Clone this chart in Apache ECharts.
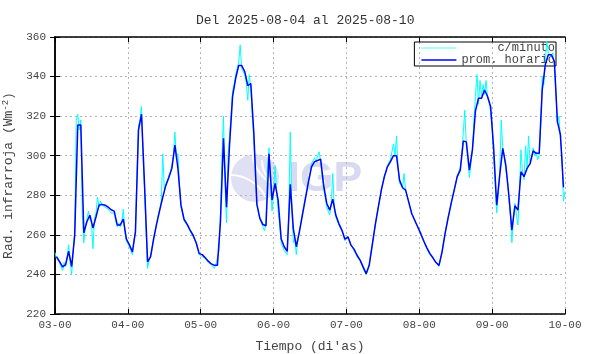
<!DOCTYPE html>
<html>
<head>
<meta charset="utf-8">
<script src="https://cdn.jsdelivr.net/npm/echarts@6/dist/echarts.min.js"></script>
<style>
    html, body { margin: 0; padding: 0; background: #fff; }
    #chart { width: 590px; height: 354px; }
</style>
</head>
<body>
<div id="chart"></div>
<script>
    // eje x en horas desde 03-00, una marca por dia
    const dayLabels = ['03-00', '04-00', '05-00', '06-00', '07-00', '08-00', '09-00', '10-00']
    const yTicks = [220, 240, 260, 280, 300, 320, 340, 360]

    // promedio horario (un valor por hora, centrado en la media hora)
    const horario1 = [249, 246.5, 243.8, 245, 251.7, 244, 260, 315.5, 315.5, 261, 266.6, 270, 263.5, 269, 275, 275.4, 275, 274, 272.7, 272, 265, 265, 268, 258]
    const horario2 = [255, 251.4, 261.5, 313, 321, 285, 246.3, 249, 258, 265.7, 272.5, 279, 285, 289, 293.6, 305.4, 293.6, 275, 268, 265.4, 262.4, 259.8, 256, 250.5]
    const horario3 = [250, 248.4, 246.7, 245.3, 244.6, 244.6, 266.6, 308.8, 274, 305.4, 330, 339, 345.6, 345.6, 342.5, 335.4, 336.5, 311.3, 275.4, 268.3, 265.2, 264.6, 301, 277.6]
    const horario4 = [286, 277.6, 258, 254, 251.7, 285.5, 263.2, 254, 261.5, 270, 278.4, 286.8, 294.4, 297, 297.6, 298.3, 285, 276, 272.5, 278, 270, 265.7, 262.4, 257.8]
    const horario5 = [259, 254.8, 252.8, 249.7, 247.2, 243.8, 240.4, 244.6, 254.8, 265, 274, 282.6, 289.4, 294.4, 297, 300, 300, 287.7, 283.8, 282.6, 276.7, 270.8, 267.4, 264]
    const horario6 = [260.6, 256.8, 253.4, 250.5, 248.4, 246, 244.6, 251.4, 260.6, 268.6, 275.9, 282.6, 289.4, 292.7, 307.4, 307, 292.7, 302.9, 322.6, 329, 329, 333.2, 329.9, 324.8]
    const horario7 = [303.7, 275, 290.2, 303.7, 295.3, 280, 262.4, 274.7, 272.5, 291.9, 289.4, 293.6, 296, 302.4, 301.2, 301.2, 333.2, 345.9, 351, 351, 347.6, 317.2, 310.5, 284]

    // c/minuto, leido cada media hora
    const minuto1 = [251, 248, 249, 246, 244, 242, 246, 244, 249, 255, 246, 240, 252, 262, 318, 321, 313, 318, 270, 256, 264, 268, 272, 268, 266, 253, 268, 271, 279, 274, 277, 275, 276, 274, 275, 273, 273, 271, 272, 271, 267, 264, 266, 264, 266, 273, 262, 257]
    const minuto2 = [256, 254, 252, 250, 257, 262, 290, 315, 318, 325, 300, 283, 262, 243, 247, 250, 254, 259, 262, 266, 270, 273, 277, 301, 283, 285, 287, 290, 292, 295, 300, 312, 298, 301, 285, 274, 271, 267, 267, 265, 264, 262, 261, 259, 258, 256, 253, 250]
    const minuto3 = [250, 249, 249, 248, 247, 246, 246, 245, 244, 243, 245, 244, 252, 270, 300, 320, 285, 266, 300, 310, 320, 333, 336, 341, 344, 347, 356, 344, 345, 341, 337, 328, 341, 334, 320, 308, 290, 276, 271, 268, 266, 264, 262, 266, 295, 304, 285, 272]
    const minuto4 = [282, 295, 282, 272, 265, 256, 255, 252, 252, 250, 270, 312, 275, 256, 258, 250, 258, 262, 266, 271, 275, 279, 283, 288, 291, 296, 296, 299, 297, 300, 302, 297, 290, 283, 279, 274, 273, 270, 276, 291, 273, 269, 267, 265, 264, 262, 260, 257]
    const minuto5 = [258, 259, 257, 255, 254, 252, 251, 249, 248, 247, 246, 243, 242, 240, 242, 245, 250, 255, 260, 265, 270, 274, 278, 283, 286, 290, 292, 295, 296, 298, 299, 306, 300, 310, 294, 286, 286, 284, 291, 282, 280, 277, 274, 271, 269, 267, 266, 264]
    const minuto6 = [262, 260, 259, 257, 255, 253, 252, 250, 249, 248, 247, 246, 245, 244, 248, 251, 256, 261, 265, 269, 272, 276, 279, 283, 286, 290, 291, 294, 300, 312, 323, 305, 298, 289, 296, 303, 318, 330, 341, 326, 338, 330, 336, 331, 338, 329, 327, 322]
    const minuto7 = [315, 300, 285, 271, 280, 292, 318, 304, 300, 293, 288, 279, 270, 256, 268, 276, 270, 265, 282, 303, 292, 288, 305, 294, 310, 296, 299, 304, 300, 302, 298, 300, 315, 340, 336, 347, 358, 352, 353, 350, 352, 346, 332, 316, 320, 308, 300, 277, 282]

    const horario = [].concat(horario1, horario2, horario3, horario4, horario5, horario6, horario7)
        .map((v, h) => [h + 0.5, v])
    const minuto = [].concat(minuto1, minuto2, minuto3, minuto4, minuto5, minuto6, minuto7)
        .map((v, k) => [k / 2, v])

    const mono = '"Liberation Mono", "DejaVu Sans Mono", monospace'
    const gris = '#444'

    const chart = echarts.init(document.getElementById('chart'))

    const frameAxis = {
        type: 'value',
        axisLine: { show: true, lineStyle: { color: '#000', width: 1.5 } },
        axisTick: { show: true, inside: true, length: 5, lineStyle: { color: '#000', width: 1 } }
    }

    chart.setOption({
        animation: false,
        backgroundColor: '#fff',
        title: {
            text: 'Del 2025-08-04 al 2025-08-10',
            left: 191,
            top: 9,
            textStyle: { fontFamily: mono, fontSize: 13, fontWeight: 'normal', color: '#333' }
        },
        grid: { left: 55, right: 25, top: 37, bottom: 40, containLabel: false, outerBoundsMode: 'none' },
        legend: {
            data: [
                { name: 'c/minuto', icon: 'rect', itemStyle: { color: '#8ff' } },
                { name: 'prom. horario', icon: 'rect', itemStyle: { color: '#0000ff' } }
            ],
            orient: 'vertical',
            right: 34,
            top: 42,
            itemWidth: 35,
            itemHeight: 1.5,
            itemGap: 0,
            padding: [0, 1, 0, 7],
            borderColor: '#000',
            borderWidth: 1,
            z: 1,
            selectedMode: false,
            formatter: name => name.padStart(13, ' '),
            textStyle: { fontFamily: mono, fontSize: 12, lineHeight: 12, color: gris }
        },
        graphic: [
            { type: 'circle', z: -10, shape: { cx: 255, cy: 178, r: 24 }, style: { fill: '#e0e0f4' } },
            { type: 'arc', z: -9, shape: { cx: 290, cy: 150, r: 38, startAngle: Math.PI * 0.62, endAngle: Math.PI * 0.98 }, style: { stroke: '#fff', lineWidth: 2, fill: null } },
            { type: 'arc', z: -9, shape: { cx: 292, cy: 160, r: 30, startAngle: Math.PI * 0.6, endAngle: Math.PI * 1.0 }, style: { stroke: '#fff', lineWidth: 2, fill: null } },
            { type: 'arc', z: -9, shape: { cx: 230, cy: 215, r: 40, startAngle: Math.PI * 1.5, endAngle: Math.PI * 1.85 }, style: { stroke: '#fff', lineWidth: 2, fill: null } },
            {
                type: 'text', z: -10, left: 288, top: 158,
                style: { text: 'IGP', font: 'bold 43px "Liberation Sans", Arial, sans-serif', fill: '#d9d9f1' }
            }
        ],
        xAxis: [
            Object.assign({}, frameAxis, {
                position: 'bottom',
                min: 0,
                max: 168,
                interval: 24,
                name: "Tiempo (di'as)",
                nameLocation: 'middle',
                nameGap: 26,
                nameTextStyle: { fontFamily: mono, fontSize: 13, color: gris },
                axisLabel: {
                    margin: 6,
                    fontFamily: mono,
                    fontSize: 11,
                    color: gris,
                    formatter: v => dayLabels[Math.round(v / 24)]
                },
                splitLine: { show: true, lineStyle: { color: '#b4b4b4', type: [2, 3], width: 1 } }
            }),
            Object.assign({}, frameAxis, {
                position: 'top',
                min: 0,
                max: 168,
                interval: 24,
                axisLabel: { show: false },
                splitLine: { show: false }
            })
        ],
        yAxis: [
            Object.assign({}, frameAxis, {
                position: 'left',
                min: yTicks[0],
                max: yTicks[yTicks.length - 1],
                interval: 20,
                name: 'Rad. infrarroja (Wm{sup|-2})',
                nameLocation: 'middle',
                nameGap: 33,
                nameTextStyle: {
                    fontFamily: mono, fontSize: 13, color: gris,
                    rich: { sup: { fontFamily: mono, fontSize: 9, color: gris, verticalAlign: 'bottom', padding: [0, 0, 7, 0] } }
                },
                axisLabel: { margin: 9, fontFamily: mono, fontSize: 11, color: gris },
                splitLine: { show: true, lineStyle: { color: '#b4b4b4', type: [2, 3], width: 1 } }
            }),
            Object.assign({}, frameAxis, {
                position: 'right',
                min: yTicks[0],
                max: yTicks[yTicks.length - 1],
                interval: 20,
                axisLabel: { show: false },
                splitLine: { show: false }
            })
        ],
        series: [
            {
                name: 'c/minuto',
                type: 'line',
                data: minuto,
                showSymbol: false,
                z: 2,
                lineStyle: { color: '#00ffff', width: 1 },
                itemStyle: { color: '#8ff' }
            },
            {
                name: 'prom. horario',
                type: 'line',
                data: horario,
                showSymbol: false,
                z: 3,
                lineStyle: { color: '#0000ff', width: 1.5 },
                itemStyle: { color: '#0000ff' }
            }
        ]
    })
</script>
</body>
</html>
